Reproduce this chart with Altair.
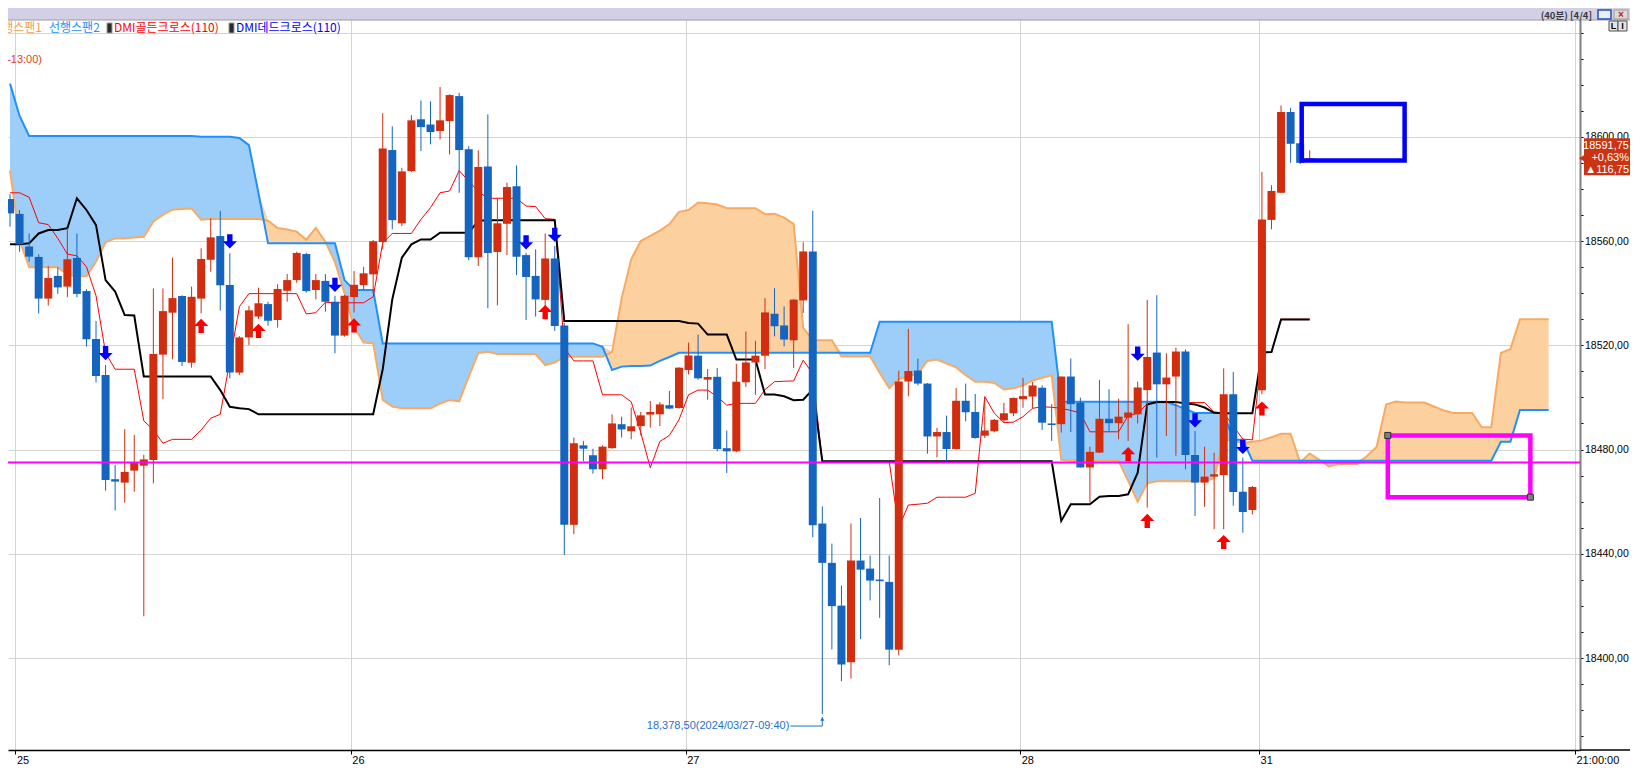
import altair as alt
import pandas as pd

# ---------------- data ----------------
opens = [18576.1, 18570.4, 18557.9, 18553.9, 18537.9, 18546.6, 18542.5, 18553.5, 18540.8, 18522.4,
         18508.6, 18468.6, 18467.3, 18471.9, 18473.8, 18476.0, 18516.4, 18532.5, 18538.9, 18513.3,
         18537.9, 18552.8, 18561.9, 18543.1, 18509.5, 18523.0, 18531.0, 18535.8, 18529.7, 18540.9,
         18545.0, 18555.0, 18541.2, 18544.7, 18536.7, 18523.7, 18538.5, 18543.1, 18547.2, 18559.6,
         18594.9, 18566.8, 18586.8, 18606.7, 18604.7, 18602.2, 18606.0, 18615.6, 18595.2, 18553.8,
         18588.6, 18555.8, 18566.6, 18581.0, 18554.6, 18546.6, 18537.4, 18553.3, 18527.6, 18451.1,
         18481.6, 18477.8, 18472.4, 18480.5, 18489.7, 18487.0, 18489.0, 18493.4, 18493.5, 18497.0,
         18495.9, 18510.5, 18516.0, 18506.8, 18507.9, 18480.5, 18479.3, 18505.8, 18513.4, 18516.0,
         18532.1, 18527.6, 18521.9, 18537.2, 18556.0, 18451.6, 18436.5, 18420.1, 18398.4, 18437.4,
         18434.3, 18430.1, 18429.2, 18403.2, 18506.1, 18510.3, 18505.3, 18485.0, 18486.7, 18480.2,
         18498.7, 18494.4, 18485.3, 18487.0, 18491.2, 18493.9, 18499.3, 18500.3, 18503.7, 18490.0,
         18489.7, 18508.0, 18498.0, 18473.1, 18478.8, 18491.8, 18490.1, 18492.2, 18493.5, 18502.8,
         18517.2, 18505.0, 18508.0, 18517.6, 18477.9, 18467.3, 18469.6, 18470.2, 18501.2, 18463.8,
         18456.8, 18502.7, 18568.1, 18578.5, 18609.5, 18597.5, 18591.0]
highs = [18578.0, 18571.9, 18562.9, 18554.9, 18550.4, 18549.9, 18564.9, 18562.9, 18541.5, 18529.3,
         18512.4, 18474.1, 18487.8, 18485.6, 18478.0, 18541.8, 18541.8, 18553.6, 18539.2, 18542.5,
         18557.2, 18568.7, 18571.5, 18555.3, 18523.5, 18535.1, 18542.1, 18536.7, 18543.4, 18547.3,
         18555.9, 18555.5, 18547.3, 18547.3, 18539.0, 18539.3, 18548.5, 18550.1, 18560.4, 18609.0,
         18604.0, 18588.1, 18608.3, 18613.9, 18613.6, 18619.1, 18616.3, 18616.9, 18596.4, 18594.8,
         18608.6, 18576.6, 18582.4, 18589.0, 18555.5, 18556.8, 18562.9, 18558.1, 18528.5, 18484.6,
         18483.3, 18480.3, 18481.6, 18493.5, 18492.6, 18496.1, 18494.4, 18498.6, 18498.2, 18502.5,
         18511.6, 18521.0, 18524.1, 18510.9, 18511.3, 18487.3, 18512.9, 18525.3, 18521.7, 18538.1,
         18541.9, 18534.9, 18537.7, 18559.5, 18571.6, 18458.2, 18443.9, 18427.8, 18451.6, 18453.7,
         18439.3, 18461.4, 18439.3, 18510.2, 18526.3, 18514.9, 18505.5, 18488.3, 18493.0, 18503.6,
         18505.3, 18501.3, 18500.1, 18491.7, 18497.9, 18499.9, 18507.5, 18505.9, 18504.6, 18497.4,
         18508.0, 18514.9, 18499.9, 18481.1, 18506.7, 18503.1, 18499.5, 18528.1, 18506.0, 18537.4,
         18539.2, 18516.9, 18519.1, 18518.4, 18487.1, 18481.1, 18478.8, 18511.1, 18509.8, 18476.9,
         18466.0, 18586.5, 18581.4, 18612.0, 18611.1, 18598.0, 18594.8]
lows = [18565.5, 18555.9, 18552.1, 18532.2, 18535.2, 18539.7, 18538.4, 18538.4, 18519.5, 18505.7,
        18464.2, 18456.6, 18459.6, 18463.8, 18416.0, 18467.0, 18499.3, 18514.6, 18512.0, 18511.4,
        18532.2, 18548.2, 18533.3, 18507.3, 18508.6, 18520.1, 18530.1, 18527.5, 18526.8, 18536.7,
        18544.0, 18540.2, 18537.6, 18532.9, 18516.9, 18523.3, 18532.6, 18541.4, 18540.2, 18556.8,
        18564.5, 18565.7, 18586.5, 18594.5, 18597.1, 18599.0, 18593.2, 18578.5, 18552.6, 18550.4,
        18534.2, 18535.3, 18554.6, 18546.9, 18529.7, 18531.0, 18532.5, 18525.5, 18439.5, 18447.5,
        18475.6, 18470.7, 18468.6, 18480.3, 18484.6, 18483.9, 18485.4, 18488.4, 18489.0, 18495.5,
        18495.7, 18508.8, 18506.8, 18499.1, 18479.3, 18471.0, 18479.0, 18504.0, 18501.0, 18510.9,
        18523.4, 18519.6, 18511.3, 18532.4, 18446.3, 18378.5, 18403.3, 18391.1, 18392.1, 18407.3,
        18422.1, 18415.4, 18397.2, 18401.0, 18500.4, 18504.6, 18478.4, 18477.0, 18475.5, 18480.0,
        18490.8, 18484.2, 18484.4, 18486.6, 18490.2, 18492.8, 18496.0, 18495.7, 18487.5, 18483.3,
        18486.5, 18486.7, 18473.1, 18459.7, 18478.8, 18487.1, 18483.9, 18483.3, 18490.0, 18457.7,
        18476.9, 18485.2, 18477.6, 18472.4, 18454.5, 18458.0, 18449.4, 18449.4, 18458.4, 18448.1,
        18455.1, 18501.2, 18564.5, 18578.5, 18590.0, 18589.5, 18590.9]
closes = [18570.6, 18558.7, 18554.0, 18537.9, 18545.8, 18542.2, 18553.0, 18539.7, 18522.3, 18508.2,
          18468.3, 18467.7, 18471.4, 18475.0, 18476.2, 18516.6, 18533.1, 18538.1, 18513.6, 18538.6,
          18553.1, 18561.4, 18543.0, 18509.5, 18523.0, 18533.4, 18536.1, 18529.4, 18541.6, 18545.0,
          18555.4, 18540.8, 18545.0, 18536.7, 18523.7, 18539.0, 18543.2, 18547.6, 18559.9, 18595.5,
          18568.0, 18586.7, 18606.3, 18603.7, 18601.8, 18606.3, 18616.0, 18594.9, 18553.8, 18588.4,
          18555.4, 18566.8, 18580.7, 18554.0, 18546.2, 18537.6, 18553.3, 18527.4, 18451.1, 18482.4,
          18480.3, 18472.4, 18481.1, 18490.0, 18487.7, 18488.9, 18493.1, 18494.4, 18497.3, 18495.7,
          18511.4, 18516.1, 18507.3, 18507.8, 18480.2, 18479.3, 18506.0, 18513.4, 18516.0, 18532.6,
          18527.3, 18522.2, 18537.5, 18556.0, 18450.9, 18436.5, 18419.9, 18397.5, 18437.4, 18433.9,
          18429.7, 18429.5, 18403.2, 18506.1, 18510.1, 18505.3, 18485.0, 18486.7, 18480.2, 18498.7,
          18494.3, 18484.4, 18487.3, 18491.4, 18493.9, 18499.8, 18500.5, 18504.6, 18490.3, 18489.4,
          18508.0, 18497.4, 18473.1, 18479.1, 18491.8, 18490.1, 18492.6, 18494.2, 18503.8, 18515.5,
          18505.0, 18507.6, 18517.6, 18477.9, 18467.3, 18469.6, 18470.5, 18501.2, 18463.7, 18456.0,
          18465.6, 18568.3, 18579.2, 18609.5, 18597.3, 18590.0, 18591.75]

tenkan = [18578.5, 18578.5, 18576.8, 18567.0, 18566.3, 18561.0, 18555.0, 18554.3, 18550.1, 18539.0,
          18517.0, 18510.8, 18510.8, 18510.8, 18491.0, 18487.5, 18482.4, 18483.9, 18483.9, 18483.9,
          18487.5, 18492.0, 18493.5, 18514.0, 18534.8, 18539.8, 18539.8, 18539.8, 18539.8, 18539.8,
          18539.8, 18532.0, 18532.5, 18536.5, 18536.3, 18536.3, 18536.3, 18536.3, 18538.6, 18559.3,
          18562.9, 18562.9, 18562.9, 18568.3, 18572.8, 18578.5, 18579.2, 18587.0, 18583.0, 18579.0,
          18576.4, 18576.4, 18576.4, 18576.4, 18573.4, 18573.2, 18568.6, 18568.3, 18519.0, 18514.0,
          18514.0, 18514.0, 18501.0, 18501.0, 18501.0, 18498.3, 18486.5, 18473.0, 18483.1, 18485.4,
          18491.4, 18501.0, 18502.8, 18502.8, 18500.3, 18497.0, 18497.7, 18497.7, 18497.7, 18503.0,
          18506.0, 18506.2, 18506.3, 18514.3, 18509.0, 18475.3, 18475.3, 18475.3, 18475.3, 18475.3,
          18475.3, 18475.3, 18475.3, 18450.0, 18458.7, 18459.0, 18459.4, 18461.7, 18461.7, 18461.7,
          18461.7, 18463.2, 18500.3, 18493.9, 18490.3, 18490.5, 18492.6, 18495.8, 18496.4, 18496.2,
          18495.8, 18495.0, 18494.0, 18486.8, 18486.8, 18486.8, 18486.8, 18493.0, 18493.9, 18497.5,
          18498.0, 18498.0, 18498.0, 18498.0, 18498.0, 18498.0, 18494.4, 18494.0, 18489.0, 18484.0,
          18483.7, 18517.3, 18517.3, 18530.0, 18530.0, 18530.0, 18530.0]

kijun = [18558.8, 18558.8, 18559.1, 18562.9, 18564.2, 18564.2, 18564.9, 18576.4, 18571.9, 18566.1,
         18545.0, 18540.6, 18531.6, 18531.4, 18508.0, 18508.0, 18508.0, 18508.0, 18508.0, 18508.0,
         18508.0, 18508.0, 18502.8, 18496.4, 18495.8, 18495.5, 18493.5, 18493.5, 18493.5, 18493.5,
         18493.5, 18493.5, 18493.5, 18493.5, 18493.5, 18493.5, 18493.5, 18493.5, 18493.5, 18510.8,
         18537.6, 18553.6, 18558.7, 18560.6, 18560.6, 18563.2, 18563.2, 18563.2, 18563.2, 18567.8,
         18568.0, 18568.0, 18568.0, 18568.0, 18568.0, 18568.0, 18568.0, 18568.0, 18529.3, 18529.3,
         18529.3, 18529.3, 18529.3, 18529.3, 18529.3, 18529.3, 18529.3, 18529.3, 18529.3, 18529.3,
         18529.3, 18528.5, 18528.3, 18524.1, 18524.1, 18524.1, 18514.5, 18514.5, 18514.5, 18501.1,
         18501.1, 18500.4, 18498.9, 18499.1, 18503.0, 18475.5, 18475.5, 18475.5, 18475.5, 18475.5,
         18475.5, 18475.5, 18475.5, 18475.5, 18475.5, 18475.5, 18475.5, 18475.5, 18475.5, 18475.5,
         18475.5, 18475.5, 18475.5, 18475.5, 18475.5, 18475.5, 18475.5, 18475.5, 18475.5, 18475.5,
         18452.6, 18459.0, 18459.0, 18459.0, 18461.9, 18462.2, 18462.2, 18462.8, 18471.1, 18497.3,
         18498.2, 18498.2, 18498.2, 18497.7, 18497.3, 18496.1, 18494.1, 18493.9, 18493.9, 18493.9,
         18493.9, 18517.2, 18517.4, 18529.9, 18529.9, 18529.9, 18529.9]

span1 = [18587.0, 18560.4, 18549.9, 18549.9, 18549.9, 18549.9, 18547.2, 18546.3, 18546.6, 18552.0,
         18559.5, 18561.0, 18561.0, 18561.3, 18561.6, 18567.5, 18570.0, 18572.0, 18572.3, 18572.5,
         18568.2, 18568.4, 18568.4, 18568.4, 18568.4, 18568.4, 18568.4, 18567.8, 18565.0, 18564.4,
         18563.6, 18560.5, 18565.0, 18559.7, 18552.0, 18540.0, 18527.0, 18521.0, 18520.8, 18499.0,
         18496.5, 18495.8, 18495.8, 18495.8, 18495.8, 18497.6, 18499.0, 18498.5, 18508.0, 18517.0,
         18517.5, 18516.6, 18516.6, 18516.6, 18516.6, 18516.6, 18512.4, 18513.4, 18515.6, 18515.6,
         18515.6, 18515.6, 18515.6, 18517.5, 18538.0, 18553.0, 18560.0, 18562.0, 18564.0, 18566.5,
         18571.2, 18571.9, 18574.8, 18574.5, 18574.0, 18572.6, 18572.6, 18572.6, 18572.6, 18570.3,
         18570.5, 18569.0, 18566.5, 18526.7, 18521.9, 18521.9, 18521.9, 18515.7, 18515.7, 18515.7,
         18515.7, 18509.5, 18503.5, 18507.0, 18508.0, 18509.2, 18514.0, 18514.5, 18513.0, 18511.5,
         18508.5, 18506.0, 18506.0, 18505.5, 18503.0, 18503.5, 18504.5, 18506.5, 18507.5, 18508.5,
         18476.0, 18475.7, 18475.7, 18475.7, 18475.7, 18475.7, 18475.7, 18468.0, 18460.0, 18467.0,
         18467.8, 18467.8, 18467.8, 18467.8, 18467.8, 18467.8, 18469.0, 18483.7, 18483.5, 18482.3,
         18483.0, 18483.5, 18484.7, 18486.0, 18486.0, 18475.0, 18478.5, 18476.0, 18473.5, 18474.4,
         18474.4, 18474.4, 18477.5, 18481.0, 18497.3, 18498.4, 18498.0, 18498.0, 18498.0, 18496.5,
         18495.0, 18494.0, 18494.0, 18494.0, 18488.5, 18488.5, 18517.0, 18518.5, 18530.0, 18530.0,
         18530.0, 18530.0]

span2 = [18620.4, 18608.0, 18600.3, 18600.3, 18600.3, 18600.3, 18600.3, 18600.3, 18600.3, 18600.3,
         18600.3, 18600.3, 18600.3, 18600.3, 18600.3, 18600.3, 18600.3, 18600.3, 18600.3, 18600.3,
         18600.0, 18600.0, 18600.0, 18600.0, 18599.5, 18596.8, 18578.3, 18559.1, 18559.1, 18559.1,
         18559.1, 18559.1, 18559.1, 18559.1, 18559.1, 18545.0, 18541.2, 18541.2, 18541.2, 18520.7,
         18520.7, 18520.7, 18520.7, 18520.7, 18520.7, 18520.7, 18520.7, 18520.7, 18520.7, 18520.7,
         18520.7, 18520.7, 18520.7, 18520.7, 18520.7, 18520.7, 18520.7, 18520.7, 18520.7, 18520.7,
         18520.7, 18520.7, 18519.4, 18510.5, 18511.8, 18512.0, 18512.0, 18512.2, 18514.0, 18515.5,
         18517.1, 18517.1, 18517.1, 18517.1, 18517.1, 18517.1, 18517.1, 18517.1, 18517.1, 18517.1,
         18517.1, 18517.1, 18517.1, 18517.1, 18517.1, 18517.1, 18517.1, 18517.1, 18517.1, 18517.1,
         18517.1, 18529.0, 18529.0, 18529.0, 18529.0, 18529.0, 18529.0, 18529.0, 18529.0, 18529.0,
         18529.0, 18529.0, 18529.0, 18529.0, 18529.0, 18529.0, 18529.0, 18529.0, 18529.0, 18529.0,
         18498.3, 18498.3, 18498.3, 18498.3, 18498.3, 18498.3, 18498.3, 18498.3, 18498.3, 18498.3,
         18498.3, 18498.3, 18497.0, 18495.5, 18494.0, 18494.0, 18494.0, 18494.0, 18483.7, 18483.7,
         18475.7, 18475.7, 18475.7, 18475.7, 18475.7, 18475.7, 18475.7, 18475.7, 18475.7, 18475.7,
         18475.7, 18475.7, 18475.7, 18475.7, 18475.7, 18475.7, 18475.7, 18475.7, 18475.7, 18475.7,
         18475.7, 18475.7, 18475.7, 18475.7, 18475.7, 18475.7, 18483.0, 18483.0, 18495.2, 18495.2,
         18495.2, 18495.2]

up_arrow_idx = [20, 26, 36, 56, 117, 119, 127, 131]
up_arrow_tip = [18530.1, 18528.2, 18530.3, 18535.4, 18480.9, 18455.3, 18447.2, 18498.4]
down_arrow_idx = [10, 23, 34, 54, 57, 118, 124, 129]
down_arrow_tip = [18514.3, 18557.2, 18540.5, 18556.8, 18559.7, 18514.1, 18488.5, 18478.3]

day_ticks = [0.57, 35.66, 70.7, 105.7, 130.7]
day_labels = ["25", "26", "27", "28", "31"]
end_label = "21:00:00"

cross_level = [18475.0]
blue_box_x = [135.16, 145.93]
blue_box_y = [18612.6, 18590.9]
magenta_box_x = [144.17, 159.09]
magenta_box_y = [18485.4, 18461.7]

low_idx = [85]
low_value = [18378.5]
low_text = "18,378,50(2024/03/27-09:40)"
last_price = [18591.75]
change_pct = "+0,63%"
change_pts = "▲116,75"

legend_items = ["선행스팬1", "선행스팬2", "DMI골든크로스(110)", "DMI데드크로스(110)"]
header_text = "(40분) [4/4]"
high_note = "(2024/03/22-13:00)"

# ---------------- styling ----------------
FONT = "Liberation Sans"
KFONT = "Noto Sans CJK KR"
RED = "#D22D0E"
BLUE = "#1565C0"
FILL_BLUE = "#9DCEFA"
FILL_ORANGE = "#FDD0A0"
LINE_ORANGE = "#F9AA62"
LINE_BLUE = "#1E90FF"

X_DOMAIN = [0.312, 163.76]
Y_DOMAIN = [18364.7, 18644.8]
W, H = 1572, 730

xs = alt.Scale(domain=X_DOMAIN, nice=False, zero=False)
ys = alt.Scale(domain=Y_DOMAIN, nice=False, zero=False)

tick_vals = day_ticks + [X_DOMAIN[1]]
tick_labs = day_labels + [end_label]
xexpr = "''"
for v, lab in reversed(list(zip(tick_vals, tick_labs))):
    xexpr = f"abs(datum.value - {v}) < 0.01 ? '{lab}' : ({xexpr})"

x_axis = alt.Axis(values=tick_vals, labelExpr=xexpr, title=None, grid=True,
                  gridColor="#D4D4D4", gridWidth=1, domainColor="#000000", domainWidth=1.5,
                  tickColor="#000000", tickSize=4, tickWidth=1, labelFont=FONT, labelFontSize=11,
                  labelColor="#000000", labelAlign="left", labelBaseline="top", labelFlush=False,
                  labelOverlap=False, labelPadding=0, labelOffset=1)

yvals = list(range(18370, 18650, 10))
y_axis = alt.Axis(orient="right", values=yvals, title=None, grid=True, gridColor="#D4D4D4",
                  gridOpacity={"condition": {"test": "datum.value % 40 != 0", "value": 0}, "value": 1},
                  labelExpr="(datum.value % 40 == 0 && datum.value < 18640) ? replace(format(datum.value, '.2f'), '.', ',') : ''",
                  domainColor="#808080", domainWidth=2, tickColor="#000000", tickSize=3,
                  labelFont=FONT, labelFontSize=10.5, labelColor="#000000", labelPadding=1.5,
                  labelOverlap=False)


def X(f):
    return alt.X(f, type="quantitative", scale=xs, axis=x_axis)


def Y(f):
    return alt.Y(f, type="quantitative", scale=ys, axis=y_axis)


one = pd.DataFrame({"a": [0]})

# ---------------- cloud ----------------
cloud_df = pd.DataFrame({"i": list(range(len(span1))), "s1": span1, "s2": span2})
cloud = alt.Chart(cloud_df).transform_calculate(top="max(datum.s1, datum.s2)")
blue_fill = cloud.mark_area(color=FILL_BLUE, clip=True).encode(
    x=X("i"), y=Y("top"), y2=alt.Y2("s1"))
orange_fill = cloud.mark_area(color=FILL_ORANGE, clip=True).encode(
    x=X("i"), y=Y("top"), y2=alt.Y2("s2"))
s1_line = alt.Chart(cloud_df).mark_line(color=LINE_ORANGE, strokeWidth=2, clip=True).encode(x=X("i"), y=Y("s1"))
s2_line = alt.Chart(cloud_df).mark_line(color=LINE_BLUE, strokeWidth=2, clip=True).encode(x=X("i"), y=Y("s2"))

# ---------------- tenkan / kijun ----------------
ind_df = pd.DataFrame({"i": list(range(len(kijun))), "tenkan": tenkan, "kijun": kijun})
tenkan_line = alt.Chart(ind_df).mark_line(color="#FF0000", strokeWidth=1, clip=True).encode(x=X("i"), y=Y("tenkan"))
kijun_line = alt.Chart(ind_df).mark_line(color="#000000", strokeWidth=2, clip=True).encode(x=X("i"), y=Y("kijun"))

# ---------------- candles ----------------
cdf = pd.DataFrame({"i": list(range(len(opens))), "o": opens, "h": highs, "l": lows, "c": closes})
cdf["dir"] = ["up" if c >= o else "down" for o, c in zip(opens, closes)]
ccol = alt.Color("dir:N", scale=alt.Scale(domain=["up", "down"], range=[RED, BLUE]), legend=None)
wicks = alt.Chart(cdf).mark_rule(strokeWidth=1, clip=True).encode(x=X("i"), y=Y("l"), y2=alt.Y2("h"), color=ccol)
bodies = alt.Chart(cdf).mark_bar(size=8, clip=True).encode(x=X("i"), y=Y("o"), y2=alt.Y2("c"), color=ccol)

# ---------------- magenta level ----------------
level = alt.Chart(pd.DataFrame({"v": cross_level})).mark_rule(color="#FF00FF", strokeWidth=2).encode(y=Y("v"))

# ---------------- DMI arrows ----------------
UP = "M0,-1L1,0L0.38,0L0.38,1L-0.38,1L-0.38,0L-1,0Z"
DOWN = "M0,1L1,0L0.38,0L0.38,-1L-0.38,-1L-0.38,0L-1,0Z"
up_arrows = alt.Chart(pd.DataFrame({"i": up_arrow_idx, "p": up_arrow_tip})).mark_point(
    shape=UP, size=200, filled=True, color="#FF0000", opacity=1, strokeWidth=0, yOffset=7).encode(x=X("i"), y=Y("p"))
down_arrows = alt.Chart(pd.DataFrame({"i": down_arrow_idx, "p": down_arrow_tip})).mark_point(
    shape=DOWN, size=200, filled=True, color="#0000FF", opacity=1, strokeWidth=0, yOffset=-7).encode(x=X("i"), y=Y("p"))

# ---------------- drawn boxes ----------------
bb = pd.DataFrame({"x1": [blue_box_x[0]], "x2": [blue_box_x[1]], "y1": [blue_box_y[0]], "y2": [blue_box_y[1]]})
blue_rect = alt.Chart(bb).mark_rect(fillOpacity=0, stroke="#0000FF", strokeWidth=4.5).encode(
    x=X("x1"), x2=alt.X2("x2"), y=Y("y1"), y2=alt.Y2("y2"))
mb = pd.DataFrame({"x1": [magenta_box_x[0]], "x2": [magenta_box_x[1]], "y1": [magenta_box_y[0]], "y2": [magenta_box_y[1]]})
mag_rect = alt.Chart(mb).mark_rect(fillOpacity=0, stroke="#FF00FF", strokeWidth=4.5).encode(
    x=X("x1"), x2=alt.X2("x2"), y=Y("y1"), y2=alt.Y2("y2"))
handles_df = pd.DataFrame({"x": [magenta_box_x[0], magenta_box_x[1]], "y": [magenta_box_y[0], magenta_box_y[1]]})
handles = alt.Chart(handles_df).mark_square(size=36, filled=True, color="#808080", stroke="#303030",
                                             strokeWidth=1, opacity=1).encode(x=X("x"), y=Y("y"))

# ---------------- low annotation ----------------
low_df = pd.DataFrame({"i": low_idx, "p": low_value})
low_txt = alt.Chart(low_df).mark_text(text=low_text, align="right", baseline="middle", dx=-33, dy=12,
                                      font=FONT, fontSize=11, color="#1F6FD0").encode(x=X("i"), y=Y("p"))
low_h = alt.Chart(low_df).mark_rule(color="#1F6FD0", strokeWidth=1, xOffset=-32, yOffset=12).encode(
    x=X("i"), x2=alt.X2("i"), y=Y("p"))
low_v = alt.Chart(low_df).mark_rule(color="#1F6FD0", strokeWidth=1, yOffset=3, y2Offset=12).encode(
    x=X("i"), y=Y("p"), y2=alt.Y2("p"))
low_head = alt.Chart(low_df).mark_point(shape="triangle-up", size=18, filled=True, color="#1F6FD0",
                                         opacity=1, yOffset=5).encode(x=X("i"), y=Y("p"))

# ---------------- price tag ----------------
tag_df = pd.DataFrame({"p": last_price})
tag_rect = alt.Chart(tag_df).mark_rect(color="#CC3311", yOffset=-20, y2Offset=17).encode(
    x=alt.value(1576), x2=alt.value(1623), y=Y("p"), y2=alt.Y2("p"))
tag_notch = alt.Chart(tag_df).mark_point(shape="triangle-left", size=90, filled=True, color="#CC3311",
                                          opacity=1).encode(x=alt.value(1575), y=Y("p"))
tag_price_txt = f"{last_price[0]:.2f}".replace(".", ",")
tag_t1 = alt.Chart(tag_df).mark_text(text=tag_price_txt, align="right", dy=-12, font=FONT, fontSize=11,
                                     color="white").encode(x=alt.value(1621), y=Y("p"))
tag_t2 = alt.Chart(tag_df).mark_text(text=change_pct, align="right", dy=0, font=FONT, fontSize=11,
                                     color="white").encode(x=alt.value(1621), y=Y("p"))
tag_t3 = alt.Chart(tag_df).mark_text(text=change_pts, align="right", dy=12, font=FONT, fontSize=11,
                                     color="white").encode(x=alt.value(1621), y=Y("p"))

# ---------------- header / legend decorations ----------------
dec = alt.Chart(one)
header = dec.mark_rect(color="#D3D0E6").encode(x=alt.value(0), x2=alt.value(1622), y=alt.value(-12), y2=alt.value(0))
header_line = dec.mark_rule(color="#9C9C9C", strokeWidth=1).encode(x=alt.value(0), x2=alt.value(1622), y=alt.value(0))
header_txt = dec.mark_text(text=header_text, align="right", baseline="middle", font=KFONT, fontSize=9.5,
                           fontWeight="bold", color="#3A3A3A").encode(x=alt.value(1584), y=alt.value(-4.5))
btn1 = dec.mark_rect(color="#E9EEF8", stroke="#1F4FBF", strokeWidth=1.5).encode(
    x=alt.value(1590), x2=alt.value(1603), y=alt.value(-10), y2=alt.value(-1))
btn2 = dec.mark_rect(color="#DADADA", stroke="#9A9A9A", strokeWidth=1).encode(
    x=alt.value(1606), x2=alt.value(1620), y=alt.value(-10), y2=alt.value(-1))
btn2x = dec.mark_text(text="×", align="center", baseline="middle", font=FONT, fontSize=10,
                      fontWeight="bold", color="#C02020").encode(x=alt.value(1613), y=alt.value(-5.5))
li1 = dec.mark_rect(color="#E4E4E4", stroke="#505050", strokeWidth=1).encode(
    x=alt.value(1601), x2=alt.value(1610), y=alt.value(1), y2=alt.value(11))
li2 = dec.mark_rect(color="#E4E4E4", stroke="#505050", strokeWidth=1).encode(
    x=alt.value(1610), x2=alt.value(1619), y=alt.value(1), y2=alt.value(11))
li1t = dec.mark_text(text="L", align="center", baseline="middle", font=FONT, fontSize=9, fontWeight="bold",
                     color="#000000").encode(x=alt.value(1605.5), y=alt.value(6))
li2t = dec.mark_text(text="I", align="center", baseline="middle", font=FONT, fontSize=9, fontWeight="bold",
                     color="#000000").encode(x=alt.value(1614.5), y=alt.value(6))

leg1 = dec.mark_text(text=legend_items[0], align="right", baseline="middle", font=KFONT, fontSize=12,
                     color="#F7A04C").encode(x=alt.value(34), y=alt.value(8))
leg2 = dec.mark_text(text=legend_items[1], align="left", baseline="middle", font=KFONT, fontSize=12,
                     color="#1E90FF").encode(x=alt.value(41), y=alt.value(8))
icon1 = dec.mark_rect(color="#2A2A2A", stroke="#9A9A9A", strokeWidth=1).encode(
    x=alt.value(99), x2=alt.value(104), y=alt.value(3), y2=alt.value(13))
leg3 = dec.mark_text(text=legend_items[2], align="left", baseline="middle", font=KFONT, fontSize=12,
                     color="#FF0000").encode(x=alt.value(106), y=alt.value(8))
icon2 = dec.mark_rect(color="#2A2A2A", stroke="#9A9A9A", strokeWidth=1).encode(
    x=alt.value(221), x2=alt.value(226), y=alt.value(3), y2=alt.value(13))
leg4 = dec.mark_text(text=legend_items[3], align="left", baseline="middle", font=KFONT, fontSize=12,
                     color="#0000FF").encode(x=alt.value(228), y=alt.value(8))
hi_note = dec.mark_text(text=high_note, align="right", baseline="middle", font=FONT, fontSize=11,
                        color="#E0401A").encode(x=alt.value(34), y=alt.value(40))
axis_ext = dec.mark_rule(color="#000000", strokeWidth=1.5).encode(
    x=alt.value(1572), x2=alt.value(1622), y=alt.value(730))

chart = alt.layer(
    blue_fill, orange_fill, s1_line, s2_line, tenkan_line, kijun_line,
    wicks, bodies, level, up_arrows, down_arrows,
    blue_rect, mag_rect, handles,
    low_h, low_v, low_head, low_txt,
    header, header_line, header_txt, btn1, btn2, btn2x, li1, li2, li1t, li2t,
    leg1, leg2, icon1, leg3, icon2, leg4, hi_note,
    tag_rect, tag_notch, tag_t1, tag_t2, tag_t3, axis_ext,
).properties(
    width=W, height=H,
    padding={"left": 0, "top": 12, "right": 50, "bottom": 18},
    autosize=alt.AutoSizeParams(type="none"),
    background="white",
).configure_view(strokeWidth=0)

chart.save("out.html", embed_options={"renderer": "svg", "actions": False})
